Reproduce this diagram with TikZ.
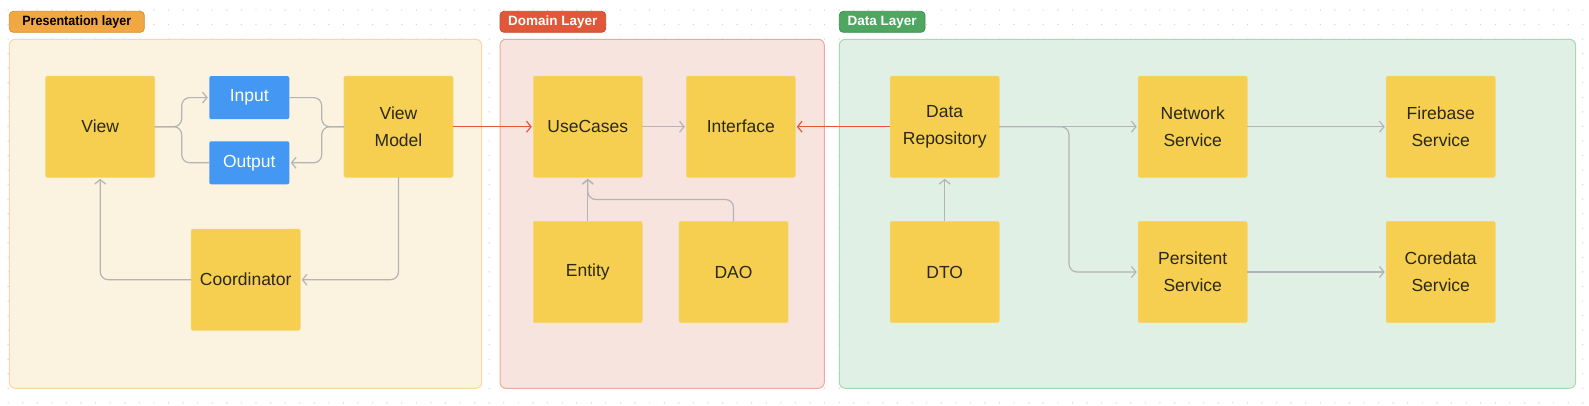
\documentclass[tikz,border=0pt]{standalone}
\usepackage{fontspec}
\setmainfont{Liberation Sans}
\usetikzlibrary{arrows.meta}
\definecolor{cPF}{HTML}{FCF2E0}
\definecolor{cPFb}{HTML}{F6D9A6}
\definecolor{cDF}{HTML}{F7E4DF}
\definecolor{cDFb}{HTML}{EFA99A}
\definecolor{cGF}{HTML}{E0F0E5}
\definecolor{cGFb}{HTML}{A8D8B6}
\definecolor{cO}{HTML}{F2A842}
\definecolor{cOb}{HTML}{D3902E}
\definecolor{cR}{HTML}{E1573A}
\definecolor{cRb}{HTML}{C94A30}
\definecolor{cGr}{HTML}{4FA660}
\definecolor{cGrb}{HTML}{3F8E50}
\definecolor{cB}{HTML}{4597F4}
\definecolor{cY}{HTML}{F6CF50}
\definecolor{cYb}{HTML}{F3D66E}
\definecolor{cG}{HTML}{B4B4B4}
\definecolor{cRed}{HTML}{E8553D}
\definecolor{cT}{HTML}{2A2818}
\definecolor{cDot}{HTML}{D2D2D2}
\begin{document}
\begin{tikzpicture}[x=1pt,y=-1pt,
  ybox/.style={fill=cY, draw=cYb, line width=0.6pt, rounded corners=2pt, minimum width=109pt, minimum height=101.3pt, inner sep=0pt, outer sep=0pt, align=center, text=cT, font=\fontsize{17.5}{27}\selectfont},
  bbox/.style={fill=cB, rounded corners=2pt, minimum width=80pt, minimum height=43pt, inner sep=0pt, outer sep=0pt, text=white, font=\fontsize{17.5}{27}\selectfont},
  frame/.style={rounded corners=6pt, line width=1pt, inner sep=0pt, outer sep=0pt},
  lbl/.style={rounded corners=4pt, line width=0.8pt, minimum height=21pt, inner sep=0pt, outer sep=0pt, font=\bfseries\fontsize{13.5}{16}\selectfont},
  conn/.style={draw=cG, line width=1.2pt, rounded corners=8pt},
  rconn/.style={draw=cRed, line width=1.2pt},
  arr/.style={-{Straight Barb[length=4.5pt,width=11pt]}, shorten >=1.5pt}
]
\useasboundingbox (0,0) rectangle (1589,405);
\fill[white] (0,0) rectangle (1589,405);
% dotted grid
\foreach \i in {0,...,108} {
  \foreach \j in {0,...,27} {
    \fill[cDot] ({8.1+\i*14.58},{10+\j*14.55}) circle (0.7);
  }
}
% frames
\node[frame, fill=cPF, draw=cPFb, minimum width=472.4pt, minimum height=349pt] (pf) at (245.5,213.8) {};
\node[frame, fill=cDF, draw=cDFb, minimum width=324.3pt, minimum height=349pt] (df) at (662.15,213.8) {};
\node[frame, fill=cGF, draw=cGFb, minimum width=736.2pt, minimum height=349pt] (gf) at (1207.4,213.8) {};
% labels
\node[lbl, fill=cO, draw=cOb, text=black, minimum width=135pt] (lp) at (76.8,21.8) {\scalebox{0.93}[1]{Presentation layer}};
\node[lbl, fill=cR, draw=cRb, text=white, minimum width=105.7pt] (ld) at (552.85,21.8) {Domain Layer};
\node[lbl, fill=cGr, draw=cGrb, text=white, minimum width=85.7pt] (lg) at (882.15,21.8) {Data Layer};
% presentation nodes
\node[ybox] (view) at (100.2,126.7) {View};
\node[bbox] (input) at (249.3,97.6) {Input};
\node[bbox] (output) at (249.3,162.8) {Output};
\node[ybox] (vm) at (398.5,126.7) {View\\Model};
\node[ybox] (coord) at (245.7,279.7) {Coordinator};
% domain nodes
\node[ybox] (uc) at (587.8,126.7) {UseCases};
\node[ybox] (intf) at (740.8,126.7) {Interface};
\node[ybox] (entity) at (587.8,272) {Entity};
\node[ybox] (dao) at (733.5,272) {DAO};
% data nodes
\node[ybox] (repo) at (944.7,126.7) {Data\\Repository};
\node[ybox] (net) at (1192.7,126.7) {Network\\Service};
\node[ybox] (fire) at (1440.7,126.7) {Firebase\\Service};
\node[ybox] (dto) at (944.7,272) {DTO};
\node[ybox] (pers) at (1192.7,272) {Persitent\\Service};
\node[ybox] (core) at (1440.7,272) {Coredata\\Service};
% fork coordinates
\coordinate (fl) at (181.7,126.7);
\coordinate (fr) at (321.7,126.7);
\coordinate (br) at (1069,126.7);
\coordinate (dj) at (733.5,199.5);
% presentation connectors
\draw[conn, arr] (view.east) -- (fl) -- (fl |- input.west) -- (input.west);
\draw[conn] (view.east) -- (fl) -- (fl |- output.west) -- (output.west);
\draw[conn] (input.east) -- (fr |- input.east) -- (fr) -- (vm.west);
\draw[conn, arr] (vm.west) -- (fr) -- (fr |- output.east) -- (output.east);
\draw[conn, arr] (coord.west) -- (view.south |- coord.west) -- (view.south);
\draw[conn, arr] (vm.south) -- (vm.south |- coord.east) -- (coord.east);
% cross-layer
\draw[rconn, arr] (vm.east) -- (uc.west);
\draw[rconn, arr] (repo.west) -- (intf.east);
% domain connectors
\draw[conn, arr] (uc.east) -- (intf.west);
\draw[conn, arr] (entity.north) -- (uc.south);
\draw[conn, arr] (dao.north) -- (dj) -- (uc.south |- dj) -- (uc.south);
% data connectors
\draw[conn, arr] (dto.north) -- (repo.south);
\draw[conn, arr] (repo.east) -- (net.west);
\draw[conn, arr] (repo.east) -- (br) -- (br |- pers.west) -- (pers.west);
\draw[conn, arr] (net.east) -- (fire.west);
\draw[conn, arr] (pers.east) -- (core.west);
\end{tikzpicture}
\end{document}
